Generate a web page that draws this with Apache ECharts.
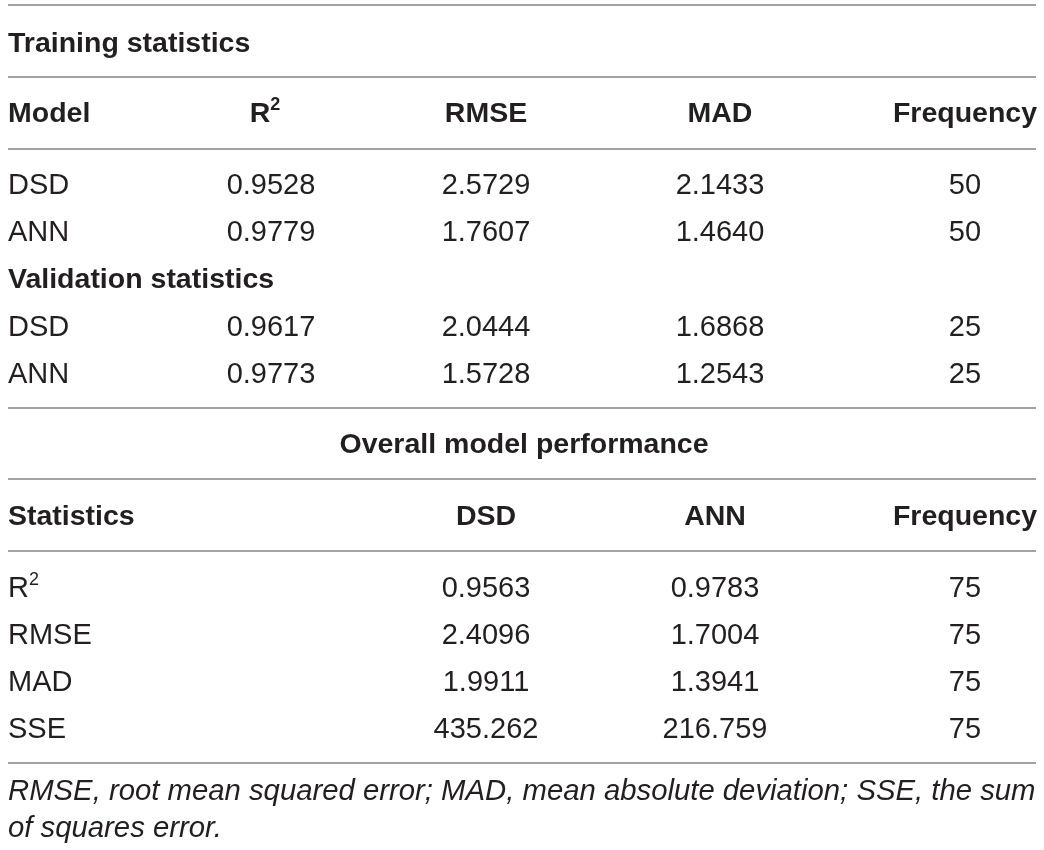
<!DOCTYPE html>
<html>
<head>
<meta charset="utf-8">
<script src="https://cdn.jsdelivr.net/npm/echarts@6/dist/echarts.min.js"></script>
<style>
  html, body { margin: 0; padding: 0; background: #fff; }
  #main { width: 1044px; height: 850px; }
</style>
</head>
<body>
<div id="main"></div>
<script>
// table content
var trainingTitle = 'Training statistics';
var validationTitle = 'Validation statistics';
var overallTitle = 'Overall model performance';
var modelHeader = ['Model', 'R2', 'RMSE', 'MAD', 'Frequency'];
var models = ['DSD', 'ANN'];

var trainR2 = [0.9528, 0.9779];
var trainRMSE = [2.5729, 1.7607];
var trainMAD = [2.1433, 1.4640];
var trainFreq = [50, 50];

var validR2 = [0.9617, 0.9773];
var validRMSE = [2.0444, 1.5728];
var validMAD = [1.6868, 1.2543];
var validFreq = [25, 25];

var overallHeader = ['Statistics', 'DSD', 'ANN', 'Frequency'];
var statNames = ['R2', 'RMSE', 'MAD', 'SSE'];
var overallDSD = [0.9563, 2.4096, 1.9911, 435.262];
var overallANN = [0.9783, 1.7004, 1.3941, 216.759];
var overallFreq = [75, 75, 75, 75];

var footnote = [
  'RMSE, root mean squared error; MAD, mean absolute deviation; SSE, the sum',
  'of squares error.'
];

var chart = echarts.init(document.getElementById('main'));

var FONT = '"Liberation Sans", Arial, Helvetica, sans-serif';
var INK = '#231f20';
var RULE = '#a3a3a3';
var FS = 29;       // regular cells
var FS_B = 28.5;   // bold headings
var FS_NOTE = 29.3;

function fmt(v) {
  if (typeof v !== 'number') return v;
  if (Number.isInteger(v)) return String(v);
  return v >= 100 ? v.toFixed(3) : v.toFixed(4);
}

var elements = [];

function rule(y) {
  elements.push({
    type: 'line',
    shape: { x1: 8, y1: y, x2: 1036, y2: y },
    style: { stroke: RULE, lineWidth: 2 }
  });
}

function label(str, x, y, align, bold, italic) {
  var weight = bold ? 'bold' : 'normal';
  var size = bold ? FS_B : (italic ? FS_NOTE : FS);
  var txt = str === 'R2' ? '{a|R}{s|2}' : str;
  elements.push({
    type: 'text',
    x: x,
    y: y + 2,
    style: {
      text: txt,
      fill: INK,
      fontFamily: FONT,
      fontSize: size,
      fontWeight: weight,
      fontStyle: italic ? 'italic' : 'normal',
      align: align,
      verticalAlign: 'middle',
      rich: {
        a: { fontFamily: FONT, fontSize: size, fontWeight: weight, fill: INK, lineHeight: 36 },
        s: { fontFamily: FONT, fontSize: 18, fontWeight: weight, fill: INK, lineHeight: 36, verticalAlign: 'top' }
      }
    }
  });
}

// upper table
var colX = [8, 271, 486, 720, 965];
var headX = [8, 265, 486, 720, 965];
rule(5);
label(trainingTitle, 8, 42, 'left', true);
rule(77);
modelHeader.forEach(function (h, i) {
  label(h, headX[i], 112, i === 0 ? 'left' : 'center', true);
});
rule(149);

function modelRows(r2, rmse, mad, freq, y0) {
  models.forEach(function (m, i) {
    var y = y0 + i * 47;
    label(m, colX[0], y, 'left');
    label(fmt(r2[i]), colX[1], y, 'center');
    label(fmt(rmse[i]), colX[2], y, 'center');
    label(fmt(mad[i]), colX[3], y, 'center');
    label(fmt(freq[i]), colX[4], y, 'center');
  });
}
modelRows(trainR2, trainRMSE, trainMAD, trainFreq, 184);
label(validationTitle, 8, 278, 'left', true);
modelRows(validR2, validRMSE, validMAD, validFreq, 326);
rule(408);

// lower table
var colX2 = [8, 486, 715, 965];
label(overallTitle, 524, 443, 'center', true);
rule(479);
overallHeader.forEach(function (h, i) {
  label(h, colX2[i], 515, i === 0 ? 'left' : 'center', true);
});
rule(551);
statNames.forEach(function (s, i) {
  var y = 587 + i * 47;
  label(s, colX2[0], y, 'left');
  label(fmt(overallDSD[i]), colX2[1], y, 'center');
  label(fmt(overallANN[i]), colX2[2], y, 'center');
  label(fmt(overallFreq[i]), colX2[3], y, 'center');
});
rule(763);

footnote.forEach(function (line, i) {
  label(line, 8, 790 + i * 37, 'left', false, true);
});

chart.setOption({
  backgroundColor: '#fff',
  animation: false,
  graphic: { elements: elements }
});
</script>
</body>
</html>
